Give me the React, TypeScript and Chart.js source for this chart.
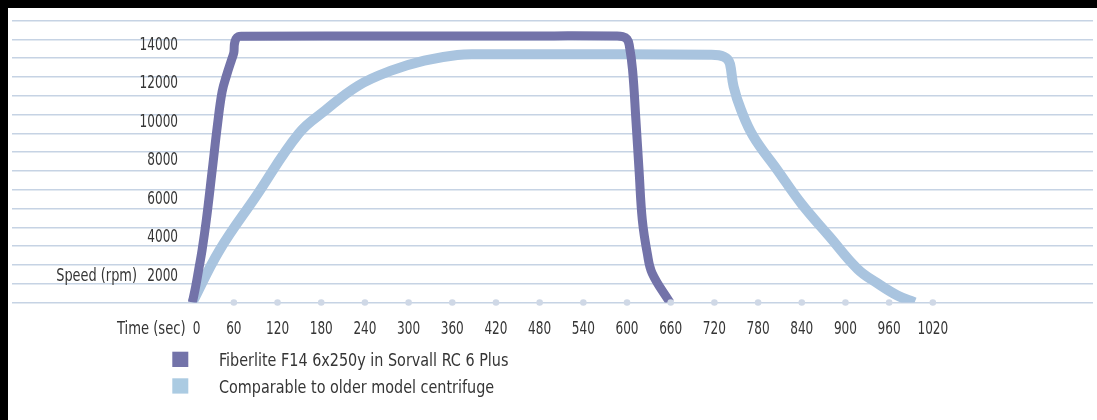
import React, { useEffect, useRef } from "react";
import { Chart, registerables } from "chart.js";

Chart.register(...registerables);

const seriesNames = [
  "Fiberlite F14 6x250y in Sorvall RC 6 Plus",
  "Comparable to older model centrifuge",
];

const fiberliteTime = [3, 7.5, 11.6, 16.4, 22.2, 30.3, 37.5, 43.9, 50.2, 57.5, 60, 60.8, 63, 66, 72, 300, 500, 584, 594, 600, 603, 607.6, 612.2, 616.5, 621, 627.8, 634.6, 659];
const fiberliteSpeed = [0, 820, 1690, 2730, 4290, 6890, 9240, 10970, 11840, 12700, 13000, 13450, 13720, 13830, 13850, 13860, 13870, 13860, 13830, 13700, 13400, 12100, 9500, 6890, 4290, 2560, 1520, 0];

const olderTime = [3, 40, 90, 149.3, 185.1, 230.7, 276, 321.5, 367, 400, 500, 600, 716, 726, 733, 738, 741.5, 746.4, 756.6, 773.7, 806.5, 839.2, 878.3, 916.8, 944, 971.4, 995];
const olderSpeed = [0, 2700, 5500, 8800, 9980, 11280, 12060, 12580, 12877, 12910, 12920, 12910, 12890, 12860, 12780, 12650, 12400, 11230, 10020, 8630, 6890, 5160, 3420, 1740, 1000, 364, 0];

const xTickValues = [0, 60, 120, 180, 240, 300, 360, 420, 480, 540, 600, 660, 720, 780, 840, 900, 960, 1020];
const yTickLabels = [2000, 4000, 6000, 8000, 10000, 12000, 14000];
const xAxisTitle = "Time (sec)";
const yAxisTitle = "Speed (rpm)";

const PURPLE = "#7373a9";
const LIGHT = "#a9c4df";
const LIGHT_KEY = "#abcbe2";
const GRID = "#c6d3e4";
const DOT = "#cfd8e6";
const TEXT = "#353535";
const FONT = "'DejaVu Sans Condensed', 'Liberation Sans', sans-serif";

const W = 1089;
const H = 412;

function drawText(ctx: any, str: string, x: number, y: number, align: string, sx: number) {
  ctx.save();
  ctx.translate(x, y);
  ctx.scale(sx, 1);
  ctx.textAlign = align;
  ctx.fillText(str, 0, 0);
  ctx.restore();
}

const textPlugin = {
  id: "texts",
  afterDraw(chart: any) {
    const { ctx, chartArea, scales } = chart;
    const x = scales.x;
    const y = scales.y;
    ctx.save();
    ctx.font = `17px ${FONT}`;
    ctx.fillStyle = TEXT;
    ctx.textBaseline = "alphabetic";
    yTickLabels.forEach((v) => {
      drawText(ctx, String(v), 170, y.getPixelForValue(v) + 16.5, "right", 0.79);
    });
    drawText(ctx, yAxisTitle, 129, y.getPixelForValue(yTickLabels[0]) + 16.5, "right", 0.845);
    const by = chartArea.bottom + 31.8;
    xTickValues.forEach((v, i) => {
      const px = x.getPixelForValue(v);
      if (i === 0) {
        drawText(ctx, String(v), px + 2.5, by, "left", 0.79);
      } else {
        drawText(ctx, String(v), px, by, "center", 0.79);
      }
    });
    drawText(ctx, xAxisTitle, x.getPixelForValue(0) - 4.5, by, "right", 0.86);
    const lines = chart.data.datasets.filter((d: any) => d.showLine);
    lines.forEach((d: any, i: number) => {
      const top = 343.7 + i * 26.6;
      ctx.fillStyle = d.backgroundColor;
      ctx.fillRect(164.3, top, 16, 15.3);
      ctx.fillStyle = TEXT;
      drawText(ctx, d.label, 211, top + 14.6, "left", 0.94);
    });
    ctx.restore();
  },
};

export default function App() {
  const ref = useRef<HTMLCanvasElement | null>(null);
  useEffect(() => {
    document.body.style.background = "#000";
    document.documentElement.style.overflow = "hidden";
    const canvas = ref.current;
    if (!canvas) return;
    const toPts = (xs: number[], ys: number[]) => xs.map((t, i) => ({ x: t, y: ys[i] }));
    const chart = new Chart(canvas, {
      type: "scatter",
      data: {
        datasets: [
          {
            label: "ticks",
            data: xTickValues.slice(1).map((t) => ({ x: t, y: 0 })),
            showLine: false,
            pointRadius: 3.3,
            pointBackgroundColor: DOT,
            pointBorderWidth: 0,
            clip: false as any,
          },
          {
            label: seriesNames[0],
            data: toPts(fiberliteTime, fiberliteSpeed),
            showLine: true,
            borderColor: PURPLE,
            backgroundColor: PURPLE,
            borderWidth: 9,
            pointRadius: 0,
            tension: 0.4,
            borderJoinStyle: "round",
            clip: 0 as any,
          },
          {
            label: seriesNames[1],
            data: toPts(olderTime, olderSpeed),
            showLine: true,
            borderColor: LIGHT,
            backgroundColor: LIGHT_KEY,
            borderWidth: 10,
            pointRadius: 0,
            tension: 0.4,
            borderJoinStyle: "round",
            clip: 0 as any,
          },
        ] as any,
      },
      options: {
        animation: false,
        responsive: false,
        devicePixelRatio: 1,
        layout: { padding: { left: 0, right: 0, top: 12.5, bottom: 117.5 } },
        plugins: { legend: { display: false }, tooltip: { enabled: false } },
        events: [],
        scales: {
          x: { type: "linear", display: false, min: -244.7, max: 1240 },
          y: {
            type: "linear",
            min: 0,
            max: 14670,
            display: true,
            ticks: { display: false, stepSize: 1000 },
            grid: { color: GRID, lineWidth: 1.5, drawTicks: false },
            border: { display: false },
          },
        },
      } as any,
      plugins: [textPlugin],
    });
    return () => chart.destroy();
  }, []);
  return (
    <div style={{ position: "fixed", left: 8, top: 8, width: W, height: H, background: "#fff" }}>
      <canvas ref={ref} width={W} height={H} style={{ display: "block", width: W, height: H }} />
    </div>
  );
}
